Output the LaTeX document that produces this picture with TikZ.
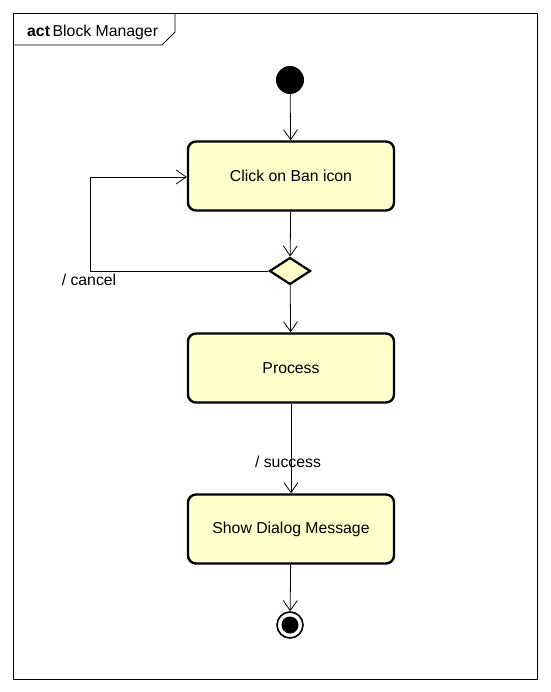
\documentclass[tikz,border=0pt]{standalone}
\usepackage{fontspec}
\setmainfont{Liberation Sans}
\usetikzlibrary{arrows.meta,shapes.geometric}
\definecolor{actfill}{RGB}{255,255,204}
\begin{document}
\begin{tikzpicture}[x=1pt,y=-1pt,
  every node/.style={font=\fontsize{15.8}{18}\selectfont},
  action/.style={draw, line width=2.4pt, rounded corners=8pt, fill=actfill,
    minimum width=206pt, minimum height=69pt, inner sep=0pt},
  decision/.style={draw, line width=2.2pt, diamond, fill=actfill,
    minimum width=41pt, minimum height=27pt, inner sep=0pt, aspect=1.5},
  flow/.style={line width=0.8pt, -{Straight Barb[length=10pt,width=14pt,line width=0.8pt]}},
  lbl/.style={inner sep=1pt}]
  \useasboundingbox (0,0) rectangle (550,692);
  % frame with its name tab
  \draw[line width=0.8pt] (13,13) rectangle (537,679);
  \draw[line width=0.8pt] (13,45) -- (162,45) -- (175,32) -- (175,13);
  \node[anchor=base west, inner sep=0pt] (title) at (27,37) {\textbf{act}\,Block Manager};
  % nodes
  \node[circle, fill=black, minimum size=28pt, inner sep=0pt] (start) at (290,80) {};
  \node[action] (click) at (291,176) {\raisebox{-2pt}{Click on Ban icon}};
  \node[decision] (dec) at (290,271) {};
  \node[action] (proc) at (291,368) {\raisebox{-2pt}{Process}};
  \node[action] (show) at (291,529) {\raisebox{-2pt}{Show Dialog Message}};
  \node[circle, draw, line width=1.6pt, minimum size=26pt, inner sep=0pt] (end) at (290,625) {};
  \node[circle, fill=black, minimum size=17pt, inner sep=0pt] at (end) {};
  \coordinate (loopbl) at (90,271);
  \coordinate (looptl) at (90,177);
  % connectors
  \draw[flow] (start) -- (click);
  \draw[flow] (click) -- (dec);
  \draw[flow] (dec.west) -- (loopbl) -- (looptl) -- (looptl -| click.west);
  \node[lbl] (cancel) at (89,280) {/ cancel};
  \draw[flow] (dec) -- (proc);
  \draw[flow] (proc) -- (show);
  \node[lbl] (success) at (288,462) {/ success};
  \draw[flow] (show) -- (end);
\end{tikzpicture}
\end{document}
